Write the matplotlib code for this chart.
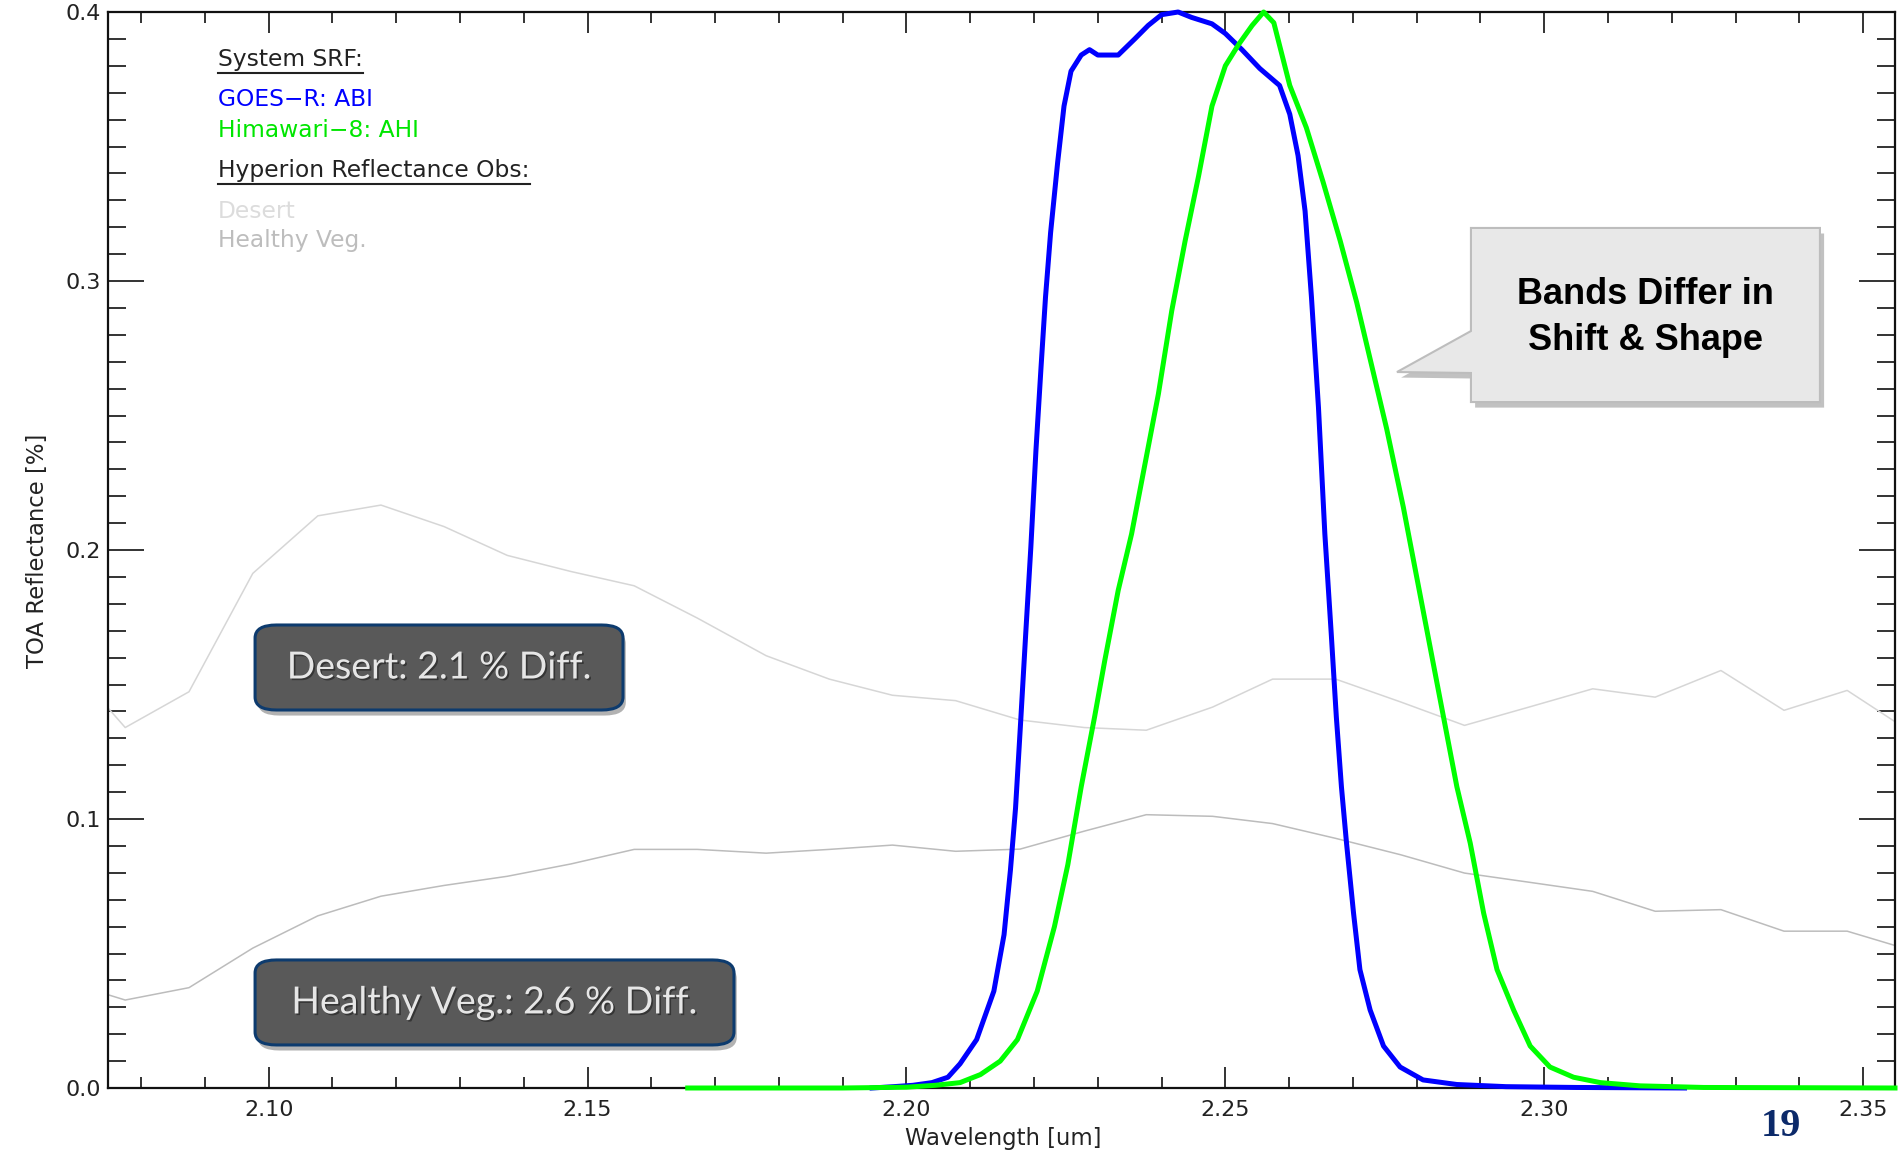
import numpy as np
import matplotlib.pyplot as plt
from matplotlib.ticker import MultipleLocator, FormatStrFormatter
from matplotlib.patches import FancyBboxPatch, Polygon
import matplotlib.patheffects as pe

# GOES-R ABI band 6 SRF, scaled to peak at 0.4
abi_wl = [2.1946, 2.198, 2.201, 2.204, 2.2065, 2.2084, 2.211, 2.2137, 2.2153, 2.2163,
          2.2171, 2.2179, 2.2187, 2.2195, 2.2203, 2.2211, 2.2218, 2.2226, 2.2237, 2.2247,
          2.2258, 2.2274, 2.2287, 2.230, 2.2332, 2.2358, 2.2379, 2.240, 2.2426, 2.2447,
          2.2479, 2.250, 2.2526, 2.2554, 2.2585, 2.2601, 2.2614, 2.2625, 2.2635, 2.2646,
          2.2656, 2.2666, 2.2674, 2.2682, 2.269, 2.2701, 2.2711, 2.2727, 2.2748, 2.2774,
          2.281, 2.2863, 2.294, 2.305, 2.322]
abi_srf = [0.0, 0.0005, 0.001, 0.002, 0.004, 0.009, 0.018, 0.036, 0.057, 0.081,
           0.104, 0.136, 0.169, 0.201, 0.237, 0.268, 0.294, 0.318, 0.344, 0.365,
           0.378, 0.384, 0.386, 0.384, 0.384, 0.390, 0.395, 0.399, 0.400, 0.398,
           0.3956, 0.392, 0.386, 0.379, 0.3727, 0.362, 0.3466, 0.326, 0.294, 0.253,
           0.206, 0.169, 0.138, 0.112, 0.091, 0.065, 0.044, 0.029, 0.0156, 0.0078,
           0.003, 0.0013, 0.0005, 0.0002, 0.0]

# Himawari-8 AHI band 6 SRF, same scaling
ahi_wl = [2.1657, 2.19, 2.20, 2.2045, 2.2084, 2.2116, 2.2147, 2.2174, 2.2205, 2.2232,
          2.2253, 2.2274, 2.2295, 2.2311, 2.2332, 2.2353, 2.2374, 2.2395, 2.2416, 2.2437,
          2.2458, 2.2479, 2.250, 2.2521, 2.2542, 2.256, 2.2576, 2.2601, 2.2627, 2.2653,
          2.268, 2.2706, 2.2732, 2.2753, 2.2779, 2.28, 2.2821, 2.2842, 2.2863, 2.2884,
          2.2905, 2.2926, 2.2952, 2.2978, 2.3009, 2.3046, 2.3088, 2.315, 2.325, 2.355]
ahi_srf = [0.0, 0.0, 0.0003, 0.001, 0.002, 0.005, 0.010, 0.018, 0.036, 0.060,
           0.083, 0.112, 0.138, 0.159, 0.185, 0.206, 0.232, 0.258, 0.289, 0.315,
           0.339, 0.365, 0.380, 0.388, 0.395, 0.400, 0.396, 0.3727, 0.357, 0.337,
           0.315, 0.292, 0.266, 0.245, 0.216, 0.190, 0.164, 0.138, 0.112, 0.091,
           0.065, 0.044, 0.029, 0.0156, 0.0078, 0.004, 0.002, 0.0008, 0.0002, 0.0]

# Hyperion TOA reflectance spectra
hyp_wl = [2.0675, 2.0775, 2.0875, 2.0975, 2.1077, 2.1176, 2.1275, 2.1374, 2.1474, 2.1573,
          2.1672, 2.1780, 2.1879, 2.1978, 2.2077, 2.2178, 2.2279, 2.2376, 2.2480, 2.2574,
          2.2673, 2.2775, 2.2875, 2.2976, 2.3076, 2.3174, 2.3277, 2.3376, 2.3475, 2.3575]
desert_refl = [0.161, 0.134, 0.1473, 0.1913, 0.2127, 0.2167, 0.2087, 0.198, 0.192, 0.1867,
               0.1747, 0.1607, 0.152, 0.146, 0.144, 0.1368, 0.134, 0.133, 0.1416, 0.152,
               0.152, 0.1435, 0.1348, 0.1416, 0.1484, 0.1453, 0.1552, 0.1404, 0.1478, 0.1323]
veg_refl = [0.040, 0.0327, 0.0373, 0.052, 0.064, 0.0713, 0.0753, 0.0787, 0.0833, 0.0887,
            0.0887, 0.0873, 0.0887, 0.0903, 0.088, 0.0888, 0.0955, 0.1016, 0.101, 0.0983,
            0.0928, 0.0867, 0.0799, 0.0765, 0.0731, 0.0657, 0.0663, 0.0583, 0.0583, 0.0512]

desert_diff = 2.1
veg_diff = 2.6

W, H = 1899, 1156
fig = plt.figure(figsize=(W / 100, H / 100), dpi=100)
ax = fig.add_axes([108 / W, 1 - 1088 / H, 1787 / W, 1076 / H])

ax.plot(hyp_wl, desert_refl, color='#d6d6d6', lw=1.1)
ax.plot(hyp_wl, veg_refl, color='#bcbcbc', lw=1.1)
ax.plot(abi_wl, abi_srf, color='#0000ff', lw=3.6, clip_on=False, zorder=3)
ax.plot(ahi_wl, ahi_srf, color='#00ff00', lw=3.6, clip_on=False, zorder=4)

ax.set_xlim(2.0748, 2.355)
ax.set_ylim(0, 0.4)

# IDL style axes: inward ticks on all four sides
ax.xaxis.set_major_locator(MultipleLocator(0.05))
ax.xaxis.set_minor_locator(MultipleLocator(0.01))
ax.yaxis.set_major_locator(MultipleLocator(0.1))
ax.yaxis.set_minor_locator(MultipleLocator(0.01))
ax.xaxis.set_major_formatter(FormatStrFormatter('%.2f'))
ax.yaxis.set_major_formatter(FormatStrFormatter('%.1f'))
ax.tick_params(which='both', direction='in', top=True, right=True,
               color='#111111', width=1.2, labelsize=16, labelcolor='#222222')
ax.xaxis.set_tick_params(which='major', length=15, pad=9)
ax.xaxis.set_tick_params(which='minor', length=8)
ax.yaxis.set_tick_params(which='major', length=26, pad=5)
ax.yaxis.set_tick_params(which='minor', length=13)
for s in ax.spines.values():
    s.set_linewidth(1.6)
    s.set_color('#111111')

fig.text(1003 / W, 1 - 1138 / H, 'Wavelength [um]', ha='center', va='center',
         fontsize=16.4, color='#222222')
fig.text(38 / W, 1 - 551 / H, 'TOA Reflectance [%]', ha='center', va='center',
         rotation=90, fontsize=16.4, color='#222222')

# legend block
lx = 0.0616
leg = [
    ('System SRF:', '#222222', 0.9555, True),
    ('GOES\u2212R: ABI', '#0000ff', 0.9185, False),
    ('Himawari\u22128: AHI', '#00e600', 0.8895, False),
    ('Hyperion Reflectance Obs:', '#222222', 0.8525, True),
    ('Desert', '#dcdcdc', 0.815, False),
    ('Healthy Veg.', '#bdbdbd', 0.7875, False),
]
underlined = []
for txt, col, y, ul in leg:
    t = ax.text(lx, y, txt, transform=ax.transAxes, ha='left', va='center',
                fontsize=16.8, color=col)
    if ul:
        underlined.append(t)

fig.canvas.draw()
inv = ax.transAxes.inverted()
for t in underlined:
    bb = t.get_window_extent()
    (x0, y0), (x1, _) = inv.transform([(bb.x0, bb.y0 - 2), (bb.x1, bb.y0)])
    ax.plot([x0, x1], [y0, y0], transform=ax.transAxes, color='#222222', lw=1.5,
            clip_on=False)

# difference boxes
box_fx = dict(boxstyle='round,pad=0,rounding_size=0.012', facecolor='#595959',
              edgecolor='#0d3b6e', linewidth=2.2, transform=ax.transAxes,
              path_effects=[pe.withSimplePatchShadow(offset=(2, -4), shadow_rgbFace='#555555',
                                                     alpha=0.45)])
txt_fx = [pe.withSimplePatchShadow(offset=(1.2, -1.2), shadow_rgbFace='#262626', alpha=0.7)]

ax.add_patch(FancyBboxPatch((0.0823, 0.3513), 0.2059, 0.079, **box_fx))
ax.text(0.0823 + 0.2059 / 2, 0.3513 + 0.0395, f'Desert: {desert_diff} % Diff.',
        transform=ax.transAxes, ha='center', va='center', fontsize=27,
        family='Lato', fontweight='normal', color='#e6e6e6', path_effects=txt_fx)

ax.add_patch(FancyBboxPatch((0.0823, 0.040), 0.268, 0.079, **box_fx))
ax.text(0.0823 + 0.268 / 2, 0.040 + 0.0395, f'Healthy Veg.: {veg_diff} % Diff.',
        transform=ax.transAxes, ha='center', va='center', fontsize=27,
        family='Lato', fontweight='normal', color='#e6e6e6', path_effects=txt_fx)

# callout
call = Polygon([(0.7627, 0.7993), (0.958, 0.7993), (0.958, 0.6375), (0.7627, 0.6375),
                (0.7627, 0.6645), (0.7213, 0.6654), (0.7627, 0.7035)], closed=True,
               transform=ax.transAxes, facecolor='#e8e8e8', edgecolor='#bdbdbd', lw=1.5,
               zorder=6, clip_on=False,
               path_effects=[pe.withSimplePatchShadow(offset=(3, -4), shadow_rgbFace='#777777',
                                                      alpha=0.45)])
ax.add_patch(call)
ax.text(0.8603, 0.7375, 'Bands Differ in', transform=ax.transAxes, ha='center',
        va='center', fontsize=26, fontweight='bold', family='Liberation Sans', zorder=7)
ax.text(0.8603, 0.6945, 'Shift & Shape', transform=ax.transAxes, ha='center',
        va='center', fontsize=26, fontweight='bold', family='Liberation Sans', zorder=7)

fig.text(1781 / W, 1 - 1126 / H, '19', ha='center', va='center', fontsize=29,
         fontweight='bold', family='Liberation Serif', color='#0c2a6a')

fig.savefig('out.png', dpi=100)
